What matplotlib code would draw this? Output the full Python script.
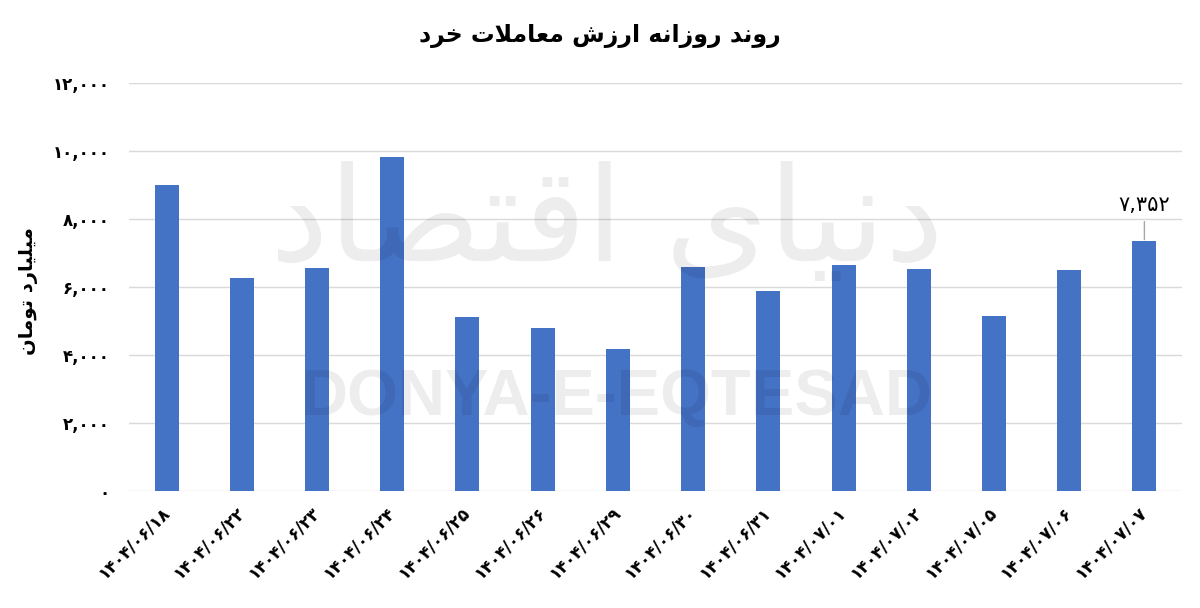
import matplotlib
matplotlib.use("Agg")
import matplotlib.pyplot as plt
from matplotlib.ticker import FuncFormatter, MultipleLocator

# data (billion toman)
dates = ['۱۴۰۴/۰۶/۱۸', '۱۴۰۴/۰۶/۲۲', '۱۴۰۴/۰۶/۲۳', '۱۴۰۴/۰۶/۲۴', '۱۴۰۴/۰۶/۲۵',
         '۱۴۰۴/۰۶/۲۶', '۱۴۰۴/۰۶/۲۹', '۱۴۰۴/۰۶/۳۰', '۱۴۰۴/۰۶/۳۱', '۱۴۰۴/۰۷/۰۱',
         '۱۴۰۴/۰۷/۰۲', '۱۴۰۴/۰۷/۰۵', '۱۴۰۴/۰۷/۰۶', '۱۴۰۴/۰۷/۰۷']
values = [9000, 6260, 6560, 9830, 5110, 4790, 4180, 6580, 5870, 6650,
          6520, 5150, 6490, 7352]

title = 'روند روزانه ارزش معاملات خرد'
ylabel = 'میلیارد تومان'
logo_fa = 'دنیای اقتصاد'
logo_en = 'DONYA-E-EQTESAD'

# matplotlib has no arabic shaping, so pick presentation forms by hand
# (isolated, final, initial, medial); right-joining letters only have two
FORMS = {
    'ا': ('\uFE8D', '\uFE8E'),
    'ت': ('\uFE95', '\uFE96', '\uFE97', '\uFE98'),
    'خ': ('\uFEA5', '\uFEA6', '\uFEA7', '\uFEA8'),
    'د': ('\uFEA9', '\uFEAA'),
    'ر': ('\uFEAD', '\uFEAE'),
    'ز': ('\uFEAF', '\uFEB0'),
    'ش': ('\uFEB5', '\uFEB6', '\uFEB7', '\uFEB8'),
    'ص': ('\uFEB9', '\uFEBA', '\uFEBB', '\uFEBC'),
    'ع': ('\uFEC9', '\uFECA', '\uFECB', '\uFECC'),
    'ق': ('\uFED5', '\uFED6', '\uFED7', '\uFED8'),
    'ل': ('\uFEDD', '\uFEDE', '\uFEDF', '\uFEE0'),
    'م': ('\uFEE1', '\uFEE2', '\uFEE3', '\uFEE4'),
    'ن': ('\uFEE5', '\uFEE6', '\uFEE7', '\uFEE8'),
    'ه': ('\uFEE9', '\uFEEA', '\uFEEB', '\uFEEC'),
    'و': ('\uFEED', '\uFEEE'),
    'ی': ('\uFBFC', '\uFBFD', '\uFBFE', '\uFBFF'),
    'لا': ('\uFEFB', '\uFEFC'),
}


def shape(text):
    chars = []
    i = 0
    while i < len(text):
        if text[i] == 'ل' and i + 1 < len(text) and text[i + 1] == 'ا':
            chars.append('لا')
            i += 2
        else:
            chars.append(text[i])
            i += 1
    out = []
    for k, c in enumerate(chars):
        f = FORMS.get(c)
        if f is None:
            out.append(c)
            continue
        prev = chars[k - 1] if k > 0 else None
        nxt = chars[k + 1] if k + 1 < len(chars) else None
        join_prev = prev in FORMS and len(FORMS[prev]) == 4
        join_next = len(f) == 4 and nxt in FORMS
        if join_prev and join_next:
            out.append(f[3])
        elif join_prev:
            out.append(f[1])
        elif join_next:
            out.append(f[2])
        else:
            out.append(f[0])
    return ''.join(reversed(out))


FA_DIGITS = str.maketrans('0123456789', '۰۱۲۳۴۵۶۷۸۹')


def fa_num(x):
    return f'{x:,.0f}'.translate(FA_DIGITS)


plt.rcParams['font.family'] = ['DejaVu Sans']

fig = plt.figure(figsize=(12, 6.08), dpi=100)
ax = fig.add_axes([0.1075, 0.1924, 0.8775, 0.6711])

x = range(len(values))
ax.bar(x, values, width=0.32, color='#4472C4', zorder=2)

ax.set_ylim(0, 12000)
ax.set_xlim(-0.5, len(values) - 0.5)
ax.yaxis.set_major_locator(MultipleLocator(2000))
ax.yaxis.set_major_formatter(FuncFormatter(lambda v, p: fa_num(v)))
ax.grid(axis='y', color='#d9d9d9', linewidth=1, zorder=0)
ax.tick_params(axis='both', length=0)
ax.tick_params(axis='y', pad=14, labelsize=12)
ax.tick_params(axis='x', pad=13, labelsize=12)
for s in ax.spines.values():
    s.set_visible(False)

ax.set_xticks(list(x))
ax.set_xticklabels(dates, rotation=45, ha='right', va='center',
                   rotation_mode='anchor', fontweight='bold')
for lbl in ax.get_yticklabels():
    lbl.set_fontweight('bold')

ax.set_ylabel(shape(ylabel), fontsize=14, fontweight='bold')
ax.yaxis.set_label_coords(-0.086, 0.49)
fig.text(0.5, 0.94, shape(title), ha='center', va='center',
         fontsize=17, fontweight='bold')

# value label on the last bar
ax.annotate(fa_num(values[-1]), xy=(len(values) - 1, values[-1]),
            xytext=(0, 19), textcoords='offset points',
            ha='center', va='bottom', fontsize=15,
            arrowprops=dict(arrowstyle='-', color='#a6a6a6', lw=1,
                            shrinkA=3, shrinkB=1))

# watermark drawn over everything, very faint
fig.text(0.506, 0.63, shape(logo_fa), ha='center', va='center',
         fontsize=95, color='black', alpha=0.07, zorder=10)
fig.text(0.514, 0.345, logo_en, ha='center', va='center',
         fontsize=47, fontweight='bold', family='Liberation Sans',
         color='black', alpha=0.07, zorder=10)

fig.savefig('out.png', dpi=100)
